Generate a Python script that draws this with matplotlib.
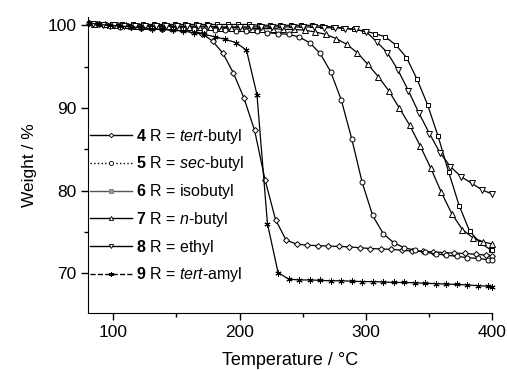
import numpy as np
import matplotlib
matplotlib.use('Agg')
import matplotlib.pyplot as plt
from matplotlib.lines import Line2D

plt.rcParams['font.family'] = ['Liberation Sans', 'DejaVu Sans']
plt.rcParams['mathtext.fontset'] = 'custom'
plt.rcParams['mathtext.rm'] = 'Liberation Sans'
plt.rcParams['mathtext.it'] = 'Liberation Sans:italic'
plt.rcParams['mathtext.bf'] = 'Liberation Sans:bold'

# 4 R = tert-butyl (diamonds)
t_4 = [86.9, 95.2, 103.5, 111.9, 120.2, 128.5, 136.9, 145.2, 153.5, 161.9,
       170.2, 178.6, 186.9, 195.2, 203.5, 211.9, 220.2, 228.5, 236.9, 245.2,
       253.5, 261.9, 270.2, 278.5, 286.9, 295.2, 303.5, 311.9, 320.2, 328.5,
       336.9, 345.2, 353.5, 361.9, 370.2, 378.5, 386.9, 395.2, 400.0]
w_4 = [100.1, 100.0, 100.0, 99.9, 99.9, 99.8, 99.8, 99.7, 99.6, 99.4,
       99.0, 98.1, 96.6, 94.2, 91.2, 87.3, 81.3, 76.5, 74.0, 73.55,
       73.4, 73.35, 73.3, 73.25, 73.2, 73.1, 73.0, 72.95, 72.9, 72.8,
       72.7, 72.65, 72.6, 72.5, 72.45, 72.4, 72.3, 72.2, 72.15]

# 5 R = sec-butyl (circles) and 9 R = tert-amyl (stars)
t_5 = [80.5, 88.8, 97.2, 105.5, 113.8, 122.2, 130.5, 138.8, 147.1, 155.5,
       163.8, 172.1, 180.5, 188.8, 197.1, 205.5, 213.8, 222.1, 230.5, 238.8,
       247.1, 255.5, 263.8, 272.1, 280.5, 288.8, 297.1, 305.4, 313.8, 322.1,
       330.4, 338.8, 347.1, 355.4, 363.8, 372.1, 380.4, 388.8, 397.1, 400.0]
w_5 = [100.3, 100.1, 99.9, 99.8, 99.8, 99.7, 99.7, 99.6, 99.6, 99.5,
       99.5, 99.4, 99.4, 99.4, 99.3, 99.3, 99.3, 99.1, 99.0, 98.9,
       98.6, 97.9, 96.6, 94.4, 91.0, 86.3, 81.0, 77.0, 74.8, 73.7,
       73.1, 72.8, 72.55, 72.35, 72.2, 72.05, 71.9, 71.8, 71.65, 71.6]
t_9 = t_5
w_9 = [100.3, 100.1, 100.0, 99.9, 99.8, 99.7, 99.6, 99.5, 99.4, 99.3,
       99.1, 98.9, 98.6, 98.3, 97.9, 97.0, 91.6, 76.0, 70.1, 69.3,
       69.2, 69.2, 69.15, 69.1, 69.1, 69.05, 69.0, 69.0, 68.95, 68.9,
       68.9, 68.85, 68.8, 68.75, 68.7, 68.65, 68.6, 68.5, 68.45, 68.4]

# 6 R = isobutyl (squares)
t_6 = [82.2, 90.5, 98.9, 107.2, 115.5, 123.9, 132.2, 140.5, 148.9, 157.2,
       165.5, 173.9, 182.2, 190.5, 198.9, 207.2, 215.5, 223.9, 232.2, 240.5,
       248.9, 257.2, 265.5, 273.9, 282.2, 290.5, 298.9, 307.2, 315.5, 323.9,
       332.2, 340.5, 348.9, 357.2, 365.5, 373.9, 382.2, 390.5, 398.9, 400.0]
w_6 = [100.3, 100.2, 100.1, 100.1, 100.1, 100.1, 100.1, 100.1, 100.1, 100.1,
       100.1, 100.1, 100.1, 100.1, 100.1, 100.1, 100.0, 100.0, 100.0, 100.0,
       100.0, 100.0, 99.9, 99.8, 99.7, 99.5, 99.3, 99.0, 98.6, 97.6,
       96.1, 93.5, 90.4, 86.6, 82.3, 78.2, 75.1, 73.7, 72.85, 72.8]

# 7 R = n-butyl (triangles up)
t_7 = [84.8, 93.1, 101.5, 109.8, 118.1, 126.5, 134.8, 143.1, 151.5, 159.8,
       168.1, 176.5, 184.8, 193.1, 201.5, 209.8, 218.1, 226.5, 234.8, 243.1,
       251.5, 259.8, 268.1, 276.5, 284.8, 293.1, 301.5, 309.8, 318.1, 326.5,
       334.8, 343.1, 351.5, 359.8, 368.1, 376.5, 384.8, 393.1, 400.0]
w_7 = [100.2, 100.1, 100.0, 100.0, 99.9, 99.9, 99.9, 99.9, 99.8, 99.8,
       99.8, 99.8, 99.7, 99.7, 99.7, 99.6, 99.6, 99.6, 99.5, 99.5,
       99.4, 99.2, 98.9, 98.4, 97.7, 96.7, 95.3, 93.8, 92.1, 90.0,
       87.9, 85.4, 82.7, 79.8, 77.2, 75.3, 74.3, 73.8, 73.55]

# 8 R = ethyl (triangles down)
t_8 = [83.7, 92.0, 100.4, 108.7, 117.0, 125.4, 133.7, 142.0, 150.4, 158.7,
       167.0, 175.4, 183.7, 192.0, 200.4, 208.7, 217.0, 225.4, 233.7, 242.0,
       250.4, 258.7, 267.0, 275.4, 283.7, 292.0, 300.4, 308.7, 317.0, 325.4,
       333.7, 342.0, 350.4, 358.7, 367.0, 375.4, 383.7, 392.0, 399.8]
w_8 = [100.1, 100.0, 100.0, 99.9, 99.9, 99.9, 99.9, 99.9, 99.9, 99.9,
       99.9, 99.9, 99.8, 99.8, 99.8, 99.8, 99.8, 99.8, 99.8, 99.8,
       99.8, 99.8, 99.7, 99.7, 99.6, 99.5, 99.2, 98.0, 96.7, 94.6,
       92.1, 89.4, 86.9, 84.6, 82.9, 81.7, 80.9, 80.1, 79.6]

labels = [r'$\mathbf{4}$ R = $\mathit{tert}$-butyl',
          r'$\mathbf{5}$ R = $\mathit{sec}$-butyl',
          r'$\mathbf{6}$ R = isobutyl',
          r'$\mathbf{7}$ R = $\mathit{n}$-butyl',
          r'$\mathbf{8}$ R = ethyl',
          r'$\mathbf{9}$ R = $\mathit{tert}$-amyl']

series = [(t_4, w_4, 'D', 3.0), (t_5, w_5, 'o', 3.6), (t_6, w_6, 's', 3.5),
          (t_7, w_7, '^', 3.8), (t_8, w_8, 'v', 3.8), (t_9, w_9, (6, 2, 0), 4.4)]

fig = plt.figure(figsize=(5.07, 3.70), dpi=100)
ax = fig.add_axes([0.1736, 0.154, 0.797, 0.80])

for t, w, m, ms in series:
    ax.plot(t, w, color='black', lw=0.9, marker=m, ms=ms, mfc='white',
            mec='black', mew=0.7, clip_on=False)

# legend handles (small markers, line styles as in the legend of the original)
handles = [
    Line2D([], [], color='black', lw=1.0, marker='D', ms=2.3, mfc='white', mew=0.6),
    Line2D([], [], color='black', lw=1.0, ls=':', marker='o', ms=3, mfc='white', mew=0.6),
    Line2D([], [], color='#555555', lw=1.0, marker='s', ms=3, mfc='#999999', mec='#777777', mew=0.6),
    Line2D([], [], color='black', lw=1.0, marker='^', ms=3, mfc='white', mew=0.6),
    Line2D([], [], color='black', lw=1.0, marker='v', ms=3, mfc='white', mew=0.6),
    Line2D([], [], color='black', lw=1.0, ls='--', marker=(6, 2, 0), ms=3.5, mew=0.6),
]
ax.legend(handles, labels, loc='upper left', bbox_to_anchor=(0.005, 0.63),
          frameon=False, fontsize=11.5, borderpad=0, borderaxespad=0,
          handlelength=2.6, handletextpad=0.3, labelspacing=0.55)

ax.set_xlim(80, 400)
ax.set_ylim(65.2, 101)
ax.set_xticks([100, 200, 300, 400])
ax.set_xticks([150, 250, 350], minor=True)
ax.set_yticks([70, 80, 90, 100])
ax.set_yticks([75, 85, 95], minor=True)
ax.tick_params(which='major', direction='out', length=5, width=1, labelsize=12.5)
ax.tick_params(which='minor', direction='out', length=3, width=1)
ax.spines['top'].set_visible(False)
ax.spines['right'].set_visible(False)
ax.set_xlabel('Temperature / °C', fontsize=13, labelpad=9)
ax.set_ylabel('Weight / %', fontsize=12.5, labelpad=7)

fig.savefig('out.png', dpi=100)
